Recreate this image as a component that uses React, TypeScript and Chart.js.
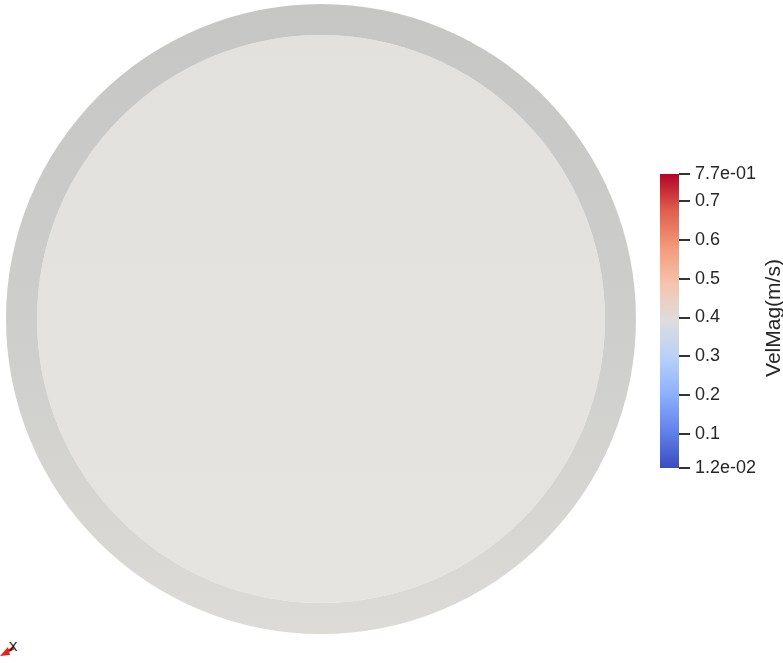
import React, { useEffect, useRef } from "react";
import { Chart, registerables } from "chart.js";

Chart.register(...registerables);

// ---- Data ----
const diskRegions = ["wall", "core"];
const diskOuterRadius = [315];
const diskInnerRadius = [284];
const diskShare = [1, 1];

const colorbarTitle = "VelMag(m/s)";
const colorbarRange = [0.012, 0.77];
const tickValues = [0.012, 0.1, 0.2, 0.3, 0.4, 0.5, 0.6, 0.7, 0.77];
const tickLabels = ["1.2e-02", "0.1", "0.2", "0.3", "0.4", "0.5", "0.6", "0.7", "7.7e-01"];

// Cool to Warm colormap stops (fraction, rgb)
const cmapStops = [0, 0.125, 0.25, 0.375, 0.5, 0.625, 0.75, 0.875, 1];
const cmapColors = [
  "rgb(59,76,192)",
  "rgb(98,130,234)",
  "rgb(141,176,254)",
  "rgb(184,208,249)",
  "rgb(221,221,221)",
  "rgb(245,196,173)",
  "rgb(244,154,123)",
  "rgb(222,96,77)",
  "rgb(180,4,38)",
];

const FONT = "'Liberation Sans', Arial, sans-serif";
const TEXT = "#262626";

const ok = (...v: number[]) => v.every((n) => Number.isFinite(n));

export default function App() {
  const mainRef = useRef<HTMLCanvasElement | null>(null);
  const barRef = useRef<HTMLCanvasElement | null>(null);

  useEffect(() => {
    const vGrad = (ctx: any, stops: [number, string][], fallback: string) => {
      const chart = ctx.chart;
      const a = chart.chartArea;
      if (!a || !ok(a.top, a.bottom)) return fallback;
      const g = (chart.ctx as CanvasRenderingContext2D).createLinearGradient(0, a.top, 0, a.bottom);
      stops.forEach(([s, c]) => g.addColorStop(s, c));
      return g;
    };
    const ringFill = (ctx: any) =>
      vGrad(ctx, [[0, "#c6c7c5"], [0.5, "#cdcdcb"], [1, "#dcdbd7"]], "#cdcdcb");
    const coreFill = (ctx: any) =>
      vGrad(ctx, [[0, "#e2e1dd"], [1, "#e5e4e0"]], "#e3e2de");

    const wallThickness = diskOuterRadius[0] - diskInnerRadius[0];

    const main = new Chart(mainRef.current as HTMLCanvasElement, {
      type: "doughnut",
      data: {
        labels: ["section"],
        datasets: diskRegions.map((name, i) => ({
          label: name,
          data: [diskShare[i]],
          backgroundColor: i === 0 ? ringFill : coreFill,
          borderWidth: 0,
          hoverOffset: 0,
          weight: i === 0 ? wallThickness : diskInnerRadius[0],
        })),
      } as any,
      options: {
        animation: false,
        responsive: false,
        events: [],
        cutout: 0,
        layout: { padding: 0 },
        plugins: { legend: { display: false }, tooltip: { enabled: false } },
      } as any,
    });

    const barFill = (ctx: any) => {
      const c = ctx.chart.ctx as CanvasRenderingContext2D;
      const ys = ctx.chart.scales && ctx.chart.scales.y;
      if (!ys) return cmapColors[4];
      const bot = ys.getPixelForValue(colorbarRange[0]);
      const top = ys.getPixelForValue(colorbarRange[1]);
      if (!ok(top, bot)) return cmapColors[4];
      const g = c.createLinearGradient(0, bot, 0, top);
      cmapStops.forEach((s, i) => g.addColorStop(s, cmapColors[i]));
      return g;
    };

    const titlePlugin = {
      id: "cbTitle",
      afterDraw(chart: any) {
        const c = chart.ctx as CanvasRenderingContext2D;
        const ys = chart.scales.y;
        const mid = (ys.top + ys.bottom) / 2;
        c.save();
        c.translate(124, mid - 3);
        c.rotate(-Math.PI / 2);
        c.font = `21px ${FONT}`;
        c.fillStyle = TEXT;
        c.textAlign = "center";
        c.textBaseline = "middle";
        c.fillText(colorbarTitle, 0, 0);
        c.restore();
      },
    };

    const bar = new Chart(barRef.current as HTMLCanvasElement, {
      type: "bar",
      data: {
        labels: [colorbarTitle],
        datasets: [
          {
            data: [colorbarRange as [number, number]],
            backgroundColor: barFill,
            borderWidth: 0,
            barPercentage: 1,
            categoryPercentage: 1,
          },
        ],
      } as any,
      options: {
        animation: false,
        responsive: false,
        events: [],
        layout: { padding: { left: 10, top: 24, bottom: 22, right: 0 } },
        plugins: { legend: { display: false }, tooltip: { enabled: false } },
        scales: {
          x: { display: false },
          y: {
            position: "right",
            min: colorbarRange[0],
            max: colorbarRange[1],
            afterBuildTicks: (s: any) => {
              s.ticks = tickValues.map((v) => ({ value: v }));
            },
            afterFit: (s: any) => {
              s.width = 104;
            },
            ticks: {
              autoSkip: false,
              padding: 5,
              color: TEXT,
              font: { family: FONT, size: 18 },
              callback: (_v: any, i: number) => tickLabels[i],
            },
            grid: {
              drawOnChartArea: false,
              tickLength: 11,
              color: "#333",
              lineWidth: 2,
            },
            border: { display: false },
          },
        },
      } as any,
      plugins: [titlePlugin],
    });

    return () => {
      main.destroy();
      bar.destroy();
    };
  }, []);

  return (
    <div style={{ position: "fixed", left: 0, top: 0, width: 783, height: 663, background: "#fff" }}>
      <canvas ref={mainRef} width={630} height={630} style={{ position: "absolute", left: 6, top: 4 }} />
      <canvas ref={barRef} width={133} height={340} style={{ position: "absolute", left: 650, top: 150 }} />
      <div style={{ position: "absolute", left: 0, top: 638, width: 24, height: 24 }}>
        <svg width={24} height={24} viewBox="0 0 24 24" style={{ display: "block" }}>
          <line x1={14} y1={10} x2={6} y2={14} stroke="#e3231c" strokeWidth={3} />
          <polygon points="0,18 8,9 10,17" fill="#e3231c" />
          <text x={13} y={13} fontFamily="Liberation Sans, Arial, sans-serif" fontSize={13} textAnchor="middle" fill="#000">X</text>
        </svg>
      </div>
    </div>
  );
}
